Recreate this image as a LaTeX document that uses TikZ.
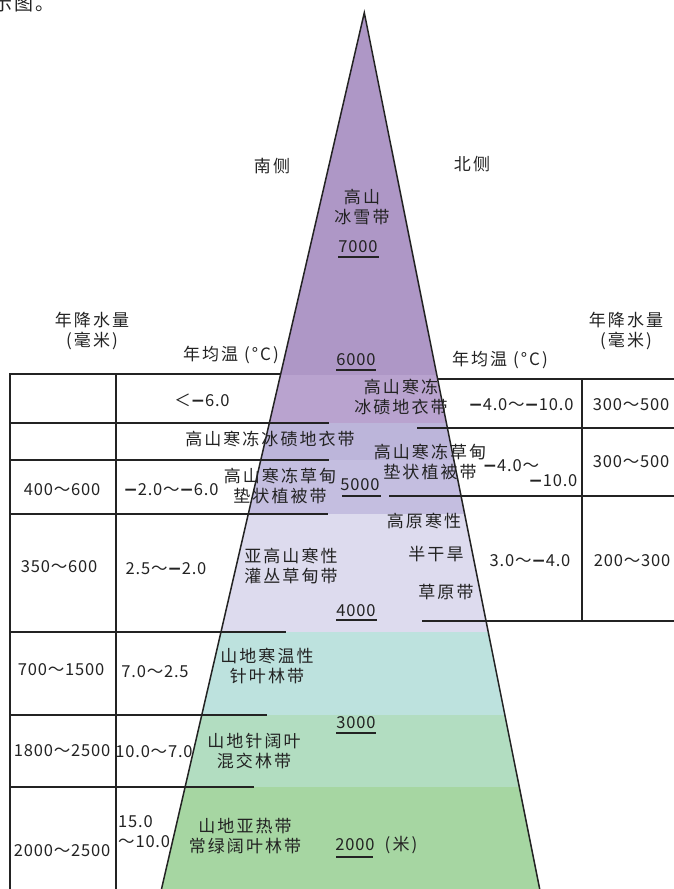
\documentclass[tikz,border=0pt]{standalone}
\usepackage{fontspec}
\newfontfamily\cjk{Noto Sans CJK SC}[LetterSpace=12]
\newfontfamily\numf{Noto Sans CJK SC}[LetterSpace=5]
\newfontfamily\mnf{DejaVu Sans}[UprightFont=* Bold]
\newcommand\mnus{{\mnf\fontsize{17}{18}\selectfont −}}
\definecolor{bA}{RGB}{174,151,198}
\definecolor{bB}{RGB}{185,163,207}
\definecolor{bC}{RGB}{188,181,218}
\definecolor{bD}{RGB}{196,190,224}
\definecolor{bE}{RGB}{221,219,238}
\definecolor{bF}{RGB}{189,226,222}
\definecolor{bG}{RGB}{178,221,193}
\definecolor{bH}{RGB}{166,214,162}
\definecolor{ink}{RGB}{35,35,35}
\tikzset{
  lbl/.style={font=\cjk\fontsize{17}{20}\selectfont, inner sep=0pt, align=center, text=ink},
  num/.style={font=\numf\fontsize{16.5}{20}\selectfont, inner sep=0pt, align=center, text=ink},
  tline/.style={draw=ink, line width=1.7pt},
  uline/.style={draw=ink, line width=1.5pt},
  edge/.style={draw=ink, line width=1.5pt, line join=miter},
}
\begin{document}
\begin{tikzpicture}[x=1pt,y=-1pt]
\useasboundingbox (0,0) rectangle (674,889);
\coordinate (apex) at (364.3,12.7);
\coordinate (bl) at (161.5,889);
\coordinate (br) at (539.7,889);
% bands
\begin{scope}
\clip (apex) -- (br) -- (bl) -- cycle;
\fill[bA] (100,0) rectangle (600,375);
\fill[bB] (100,375) rectangle (600,423);
\fill[bC] (100,423) rectangle (600,460);
\fill[bD] (100,460) rectangle (600,514);
\fill[bE] (100,514) rectangle (600,632);
\fill[bF] (100,632) rectangle (600,715);
\fill[bG] (100,715) rectangle (600,787);
\fill[bH] (100,787) rectangle (600,900);
\end{scope}
\draw[edge] (bl) -- (apex) -- (br);
% left table
\draw[tline] (10,374) -- (280.7,374);
\draw[tline] (10,423) -- (329,423);
\draw[tline] (10,460) -- (329,460);
\draw[tline] (10,514) -- (328,514);
\draw[tline] (10,632) -- (286,632);
\draw[tline] (10,715) -- (267,715);
\draw[tline] (10,787) -- (254,787);
\draw[tline] (10,373.2) -- (10,889);
\draw[tline] (116,373.2) -- (116,889);
% right table
\draw[tline] (437.4,379) -- (674,379);
\draw[tline] (417,428) -- (674,428);
\draw[tline] (389,496) -- (674,496);
\draw[tline] (422,621) -- (674,621);
\draw[tline] (582,378.2) -- (582,621.8);
% altitude underlines
\draw[uline] (338,257) -- (379,257);
\draw[uline] (336,370) -- (376,370);
\draw[uline] (342,496) -- (381,496);
\draw[uline] (336,620) -- (377,620);
\draw[uline] (336,733) -- (376,733);
\draw[uline] (336,857) -- (373,857);
% caption fragment
\node[lbl, anchor=south west, font=\cjk\fontsize{19}{20}\selectfont] (cap) at (-7,12) {示图。};
% headings
\node[lbl] (south) at (272,166) {南侧};
\node[lbl] (north) at (472,164) {北侧};
\node[lbl] (lprec) at (92,331) {年降水量\\(毫米)};
\node[lbl] (rprec) at (626,331) {年降水量\\(毫米)};
\node[lbl] (ltemp) at (231,355) {年均温 (°C)};
\node[lbl] (rtemp) at (500,360) {年均温 (°C)};
% zone labels
\node[lbl] (z1) at (362,207) {高山\\冰雪带};
\node[num] (h7) at (358,247) {7000};
\node[num] (h6) at (356,360) {6000};
\node[lbl] (z2r) at (401,397) {高山寒冻\\冰碛地衣带};
\node[lbl] (z2l) at (270,439) {高山寒冻冰碛地衣带};
\node[lbl] (z3l) at (280,486) {高山寒冻草甸\\垫状植被带};
\node[lbl] (z3r) at (430,462) {高山寒冻草甸\\垫状植被带};
\node[num] (h5) at (360,485) {5000};
\node[lbl] (z4l) at (291,566) {亚高山寒性\\灌丛草甸带};
\node[lbl] (z4a) at (424,521) {高原寒性};
\node[lbl] (z4b) at (436,554) {半干旱};
\node[lbl] (z4c) at (446,592) {草原带};
\node[num] (h4) at (356,611) {4000};
\node[lbl] (z5) at (267,666) {山地寒温性\\针叶林带};
\node[num] (h3) at (356,723) {3000};
\node[lbl] (z6) at (254,751) {山地针阔叶\\混交林带};
\node[lbl] (z7) at (245,836) {山地亚热带\\常绿阔叶林带};
\node[num] (h2) at (355,845) {2000};
\node[lbl] (unit) at (401,845) {(米)};
% left table values
\node[num] (lt1) at (202,400) {＜\mnus6.0};
\node[num] (lp3) at (62,490) {400～600};
\node[num] (lt3) at (171,490) {\mnus2.0～\mnus6.0};
\node[num] (lp4) at (59,567) {350～600};
\node[num] (lt4) at (166,569) {2.5～\mnus2.0};
\node[num] (lp5) at (61,670) {700～1500};
\node[num] (lt5) at (155,672) {7.0～2.5};
\node[num] (lp6) at (62,751) {1800～2500};
\node[num] (lt6) at (154,752) {10.0～7.0};
\node[num] (lp7) at (62,851) {2000～2500};
\node[num, anchor=west] (lt7a) at (118,822) {15.0};
\node[num, anchor=west] (lt7b) at (118,842) {～10.0};
% right table values
\node[num] (rt1) at (521,405) {\mnus4.0～\mnus10.0};
\node[num] (rp1) at (631,405) {300～500};
\node[num] (rt2a) at (511,466) {\mnus4.0～};
\node[num] (rt2b) at (553,481) {\mnus10.0};
\node[num] (rp2) at (631,462) {300～500};
\node[num] (rt3) at (530,561) {3.0～\mnus4.0};
\node[num] (rp3) at (632,561) {200～300};
\end{tikzpicture}
\end{document}
